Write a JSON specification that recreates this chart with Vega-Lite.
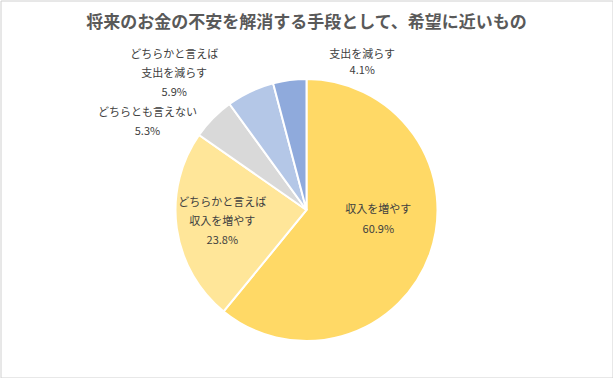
{
  "$schema": "https://vega.github.io/schema/vega-lite/v6.json",
  "width": 612,
  "height": 377,
  "autosize": {"type": "none"},
  "padding": {"left": 0.5, "top": 0.5, "right": 0, "bottom": 0},
  "background": "#ffffff",
  "view": {"stroke": "#d0d0d0", "strokeWidth": 1, "fill": "#ffffff"},
  "config": {
    "font": "Noto Sans CJK JP"
  },
  "title": {
    "text": "将来のお金の不安を解消する手段として、希望に近いもの",
    "font": "Noto Sans CJK JP",
    "fontSize": 17,
    "fontWeight": "bold",
    "color": "#595959",
    "anchor": "middle",
    "offset": -31
  },
  "data": {
    "values": [
      {"name": "収入を増やす", "value": 60.9, "order": 1},
      {"name": "どちらかと言えば 収入を増やす", "value": 23.8, "order": 2},
      {"name": "どちらとも言えない", "value": 5.3, "order": 3},
      {"name": "どちらかと言えば 支出を減らす", "value": 5.9, "order": 4},
      {"name": "支出を減らす", "value": 4.1, "order": 5}
    ]
  },
  "transform": [
    {"window": [{"op": "sum", "field": "value", "as": "cum"}], "sort": [{"field": "order"}], "frame": [null, 0]},
    {"calculate": "datum.cum - datum.value / 2", "as": "mid"},
    {"calculate": "replace(datum.name, ' ', '\\n') + '\\n' + format(datum.value, '.1f') + '%'", "as": "label"}
  ],
  "layer": [
    {
      "mark": {"type": "arc", "radius": 131, "stroke": "#ffffff", "strokeWidth": 2, "yOffset": 21},
      "encoding": {
        "theta": {"field": "value", "type": "quantitative", "stack": true, "scale": {"domain": [0, 100]}},
        "order": {"field": "order", "type": "quantitative"},
        "color": {
          "field": "name",
          "type": "nominal",
          "scale": {
            "domain": ["収入を増やす", "どちらかと言えば 収入を増やす", "どちらとも言えない", "どちらかと言えば 支出を減らす", "支出を減らす"],
            "range": ["#ffd966", "#ffe699", "#d9d9d9", "#b4c7e7", "#8faadc"]
          },
          "legend": null
        }
      }
    },
    {
      "transform": [{"filter": "datum.order == 1"}],
      "mark": {"type": "text", "radius": 72, "dx": 4, "dy": -24, "yOffset": 21, "lineBreak": "\n", "lineHeight": 20, "fontSize": 11, "color": "#404040", "align": "center", "baseline": "middle"},
      "encoding": {
        "theta": {"field": "mid", "type": "quantitative", "stack": null, "scale": {"domain": [0, 100]}},
        "text": {"field": "label"}
      }
    },
    {
      "transform": [{"filter": "datum.order == 2"}],
      "mark": {"type": "text", "radius": 85, "dx": 0, "dy": -19, "yOffset": 21, "lineBreak": "\n", "lineHeight": 19, "fontSize": 11, "color": "#404040", "align": "center", "baseline": "middle"},
      "encoding": {
        "theta": {"field": "mid", "type": "quantitative", "stack": null, "scale": {"domain": [0, 100]}},
        "text": {"field": "label"}
      }
    },
    {
      "transform": [{"filter": "datum.order == 3"}],
      "mark": {"type": "text", "radius": 150, "dx": -52, "dy": 8, "yOffset": 21, "lineBreak": "\n", "lineHeight": 19, "fontSize": 11, "color": "#404040", "align": "center", "baseline": "middle"},
      "encoding": {
        "theta": {"field": "mid", "type": "quantitative", "stack": null, "scale": {"domain": [0, 100]}},
        "text": {"field": "label"}
      }
    },
    {
      "transform": [{"filter": "datum.order == 4"}],
      "mark": {"type": "text", "radius": 150, "dx": -68, "dy": -19, "yOffset": 21, "lineBreak": "\n", "lineHeight": 19, "fontSize": 11, "color": "#404040", "align": "center", "baseline": "middle"},
      "encoding": {
        "theta": {"field": "mid", "type": "quantitative", "stack": null, "scale": {"domain": [0, 100]}},
        "text": {"field": "label"}
      }
    },
    {
      "transform": [{"filter": "datum.order == 5"}],
      "mark": {"type": "text", "radius": 150, "dx": 75, "dy": -6, "yOffset": 21, "lineBreak": "\n", "lineHeight": 16, "fontSize": 11, "color": "#404040", "align": "center", "baseline": "middle"},
      "encoding": {
        "theta": {"field": "mid", "type": "quantitative", "stack": null, "scale": {"domain": [0, 100]}},
        "text": {"field": "label"}
      }
    }
  ]
}
